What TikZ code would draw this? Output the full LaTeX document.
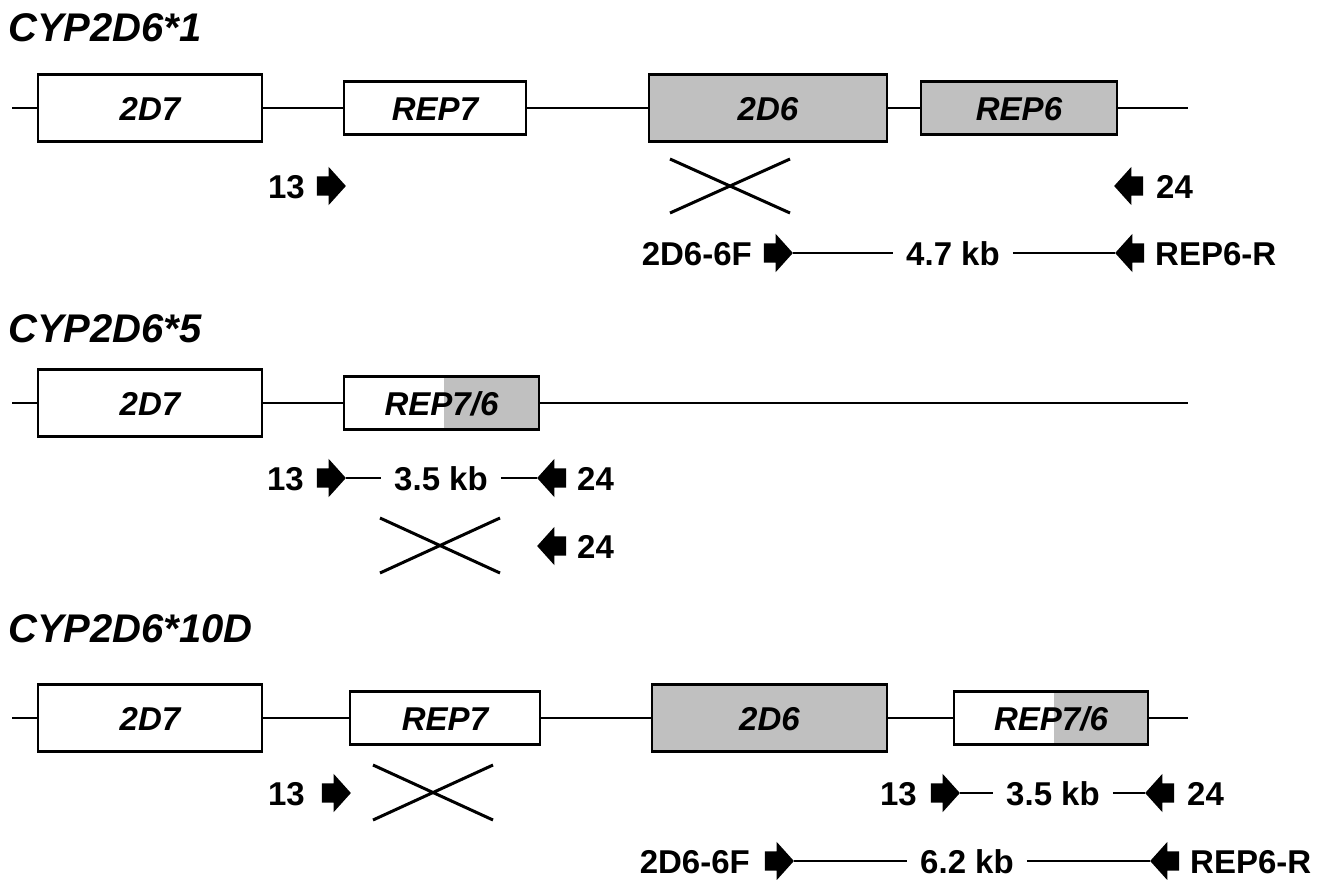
\documentclass[tikz,border=0pt]{standalone}
\usepackage{fontspec}
\setmainfont{Liberation Sans}
\usetikzlibrary{shapes.arrows}
\definecolor{genegray}{HTML}{C0C0C0}
\tikzset{
  dna/.style={line width=2.8pt},
  xline/.style={line width=3pt},
  genebox/.style={draw, line width=2.8pt, rectangle, inner sep=0pt, fill=white,
    font=\fontsize{33pt}{36pt}\selectfont\bfseries\itshape, text height=24pt, text depth=0pt},
  bigbox/.style={genebox, minimum height=67pt},
  smallbox/.style={genebox, minimum height=53pt},
  shaded/.style={fill=genegray},
  halfshade/.style={path picture={\fill[genegray] ([xshift=100pt]path picture bounding box.north west) rectangle (path picture bounding box.south east);}},
  lbl/.style={inner sep=0pt, font=\fontsize{33pt}{36pt}\selectfont\bfseries, text height=24pt, text depth=0pt},
  kb/.style={lbl, inner xsep=13pt},
  title/.style={inner sep=0pt, anchor=west, font=\fontsize{40pt}{44pt}\selectfont\bfseries\itshape, text height=29pt, text depth=0pt},
  fwd/.style={single arrow, fill=black, draw=none, minimum height=29pt, minimum width=0pt,
    inner xsep=0pt, inner ysep=9.5pt, text height=0pt, text depth=0pt,
    single arrow head extend=9.5pt, single arrow tip angle=96},
  rev/.style={fwd, shape border rotate=180},
}
\begin{document}
\begin{tikzpicture}[x=1pt,y=-1pt]
\useasboundingbox[fill=white] (0,0) rectangle (1330,879);

% ---------------- CYP2D6*1 ----------------
\node[title] (t1) at (8,27) {CYP2D6*1};
\coordinate (s1) at (12,108);
\coordinate (e1) at (1188,108);
\node[bigbox, minimum width=224pt] (a1) at (150,108) {2D7};
\node[smallbox, minimum width=182pt] (b1) at (435,108) {REP7};
\node[bigbox, shaded, minimum width=238pt] (c1) at (768,108) {2D6};
\node[smallbox, shaded, minimum width=196pt] (d1) at (1019,108) {REP6};
\draw[dna] (s1) -- (a1.west) (a1.east) -- (b1.west) (b1.east) -- (c1.west) (c1.east) -- (d1.west) (d1.east) -- (e1);

\node[lbl, anchor=east] (l13a) at (305,186) {13};
\node[fwd] (p13a) at (327,186) {};
\node[rev] (p24a) at (1133,186) {};
\node[lbl, anchor=west] (l24a) at (1156,186) {24};

\coordinate (x1a) at (670,159); \coordinate (x1b) at (790,213);
\coordinate (x1c) at (670,213); \coordinate (x1d) at (790,159);
\draw[xline] (x1a) -- (x1b) (x1c) -- (x1d);

\node[lbl, anchor=east] (l6fa) at (752,253) {2D6-6F};
\node[fwd] (p6fa) at (774,253) {};
\node[kb] (kb1) at (953,253) {4.7 kb};
\node[rev] (p6ra) at (1134,253) {};
\node[lbl, anchor=west] (l6ra) at (1155,253) {REP6-R};
\draw[dna] (p6fa.tip) -- (kb1.west) (kb1.east) -- (p6ra.tip);

% ---------------- CYP2D6*5 ----------------
\node[title] (t2) at (8,328) {CYP2D6*5};
\coordinate (s2) at (12,403);
\coordinate (e2) at (1188,403);
\node[bigbox, minimum width=224pt] (a2) at (150,403) {2D7};
\node[smallbox, halfshade, minimum width=195pt] (b2) at (441.5,403) {REP7/6};
\draw[dna] (s2) -- (a2.west) (a2.east) -- (b2.west) (b2.east) -- (e2);

\node[lbl, anchor=east] (l13b) at (304,478) {13};
\node[fwd] (p13b) at (327,478) {};
\node[kb] (kb2) at (441,478) {3.5 kb};
\node[rev] (p24b) at (556,478) {};
\node[lbl, anchor=west] (l24b) at (577,478) {24};
\draw[dna] (p13b.tip) -- (kb2.west) (kb2.east) -- (p24b.tip);

\coordinate (x2a) at (380,518); \coordinate (x2b) at (500,573);
\coordinate (x2c) at (380,573); \coordinate (x2d) at (500,518);
\draw[xline] (x2a) -- (x2b) (x2c) -- (x2d);

\node[rev] (p24c) at (556,546) {};
\node[lbl, anchor=west] (l24c) at (577,546) {24};

% ---------------- CYP2D6*10D ----------------
\node[title] (t3) at (8,628) {CYP2D6*10D};
\coordinate (s3) at (12,718);
\coordinate (e3) at (1188,718);
\node[bigbox, minimum width=224pt] (a3) at (150,718) {2D7};
\node[smallbox, minimum width=190pt] (b3) at (445,718) {REP7};
\node[bigbox, shaded, minimum width=235pt] (c3) at (769.5,718) {2D6};
\node[smallbox, halfshade, minimum width=194pt] (d3) at (1051,718) {REP7/6};
\draw[dna] (s3) -- (a3.west) (a3.east) -- (b3.west) (b3.east) -- (c3.west) (c3.east) -- (d3.west) (d3.east) -- (e3);

\node[lbl, anchor=east] (l13c) at (305,793) {13};
\node[fwd] (p13c) at (332,793) {};

\coordinate (x3a) at (373,765); \coordinate (x3b) at (493,820);
\coordinate (x3c) at (373,820); \coordinate (x3d) at (493,765);
\draw[xline] (x3a) -- (x3b) (x3c) -- (x3d);

\node[lbl, anchor=east] (l13d) at (917,793) {13};
\node[fwd] (p13d) at (941,793) {};
\node[kb] (kb3) at (1053,793) {3.5 kb};
\node[rev] (p24d) at (1164,793) {};
\node[lbl, anchor=west] (l24d) at (1187,793) {24};
\draw[dna] (p13d.tip) -- (kb3.west) (kb3.east) -- (p24d.tip);

\node[lbl, anchor=east] (l6fb) at (750,861) {2D6-6F};
\node[fwd] (p6fb) at (775,861) {};
\node[kb] (kb4) at (967,861) {6.2 kb};
\node[rev] (p6rb) at (1169,861) {};
\node[lbl, anchor=west] (l6rb) at (1190,861) {REP6-R};
\draw[dna] (p6fb.tip) -- (kb4.west) (kb4.east) -- (p6rb.tip);
\end{tikzpicture}
\end{document}
